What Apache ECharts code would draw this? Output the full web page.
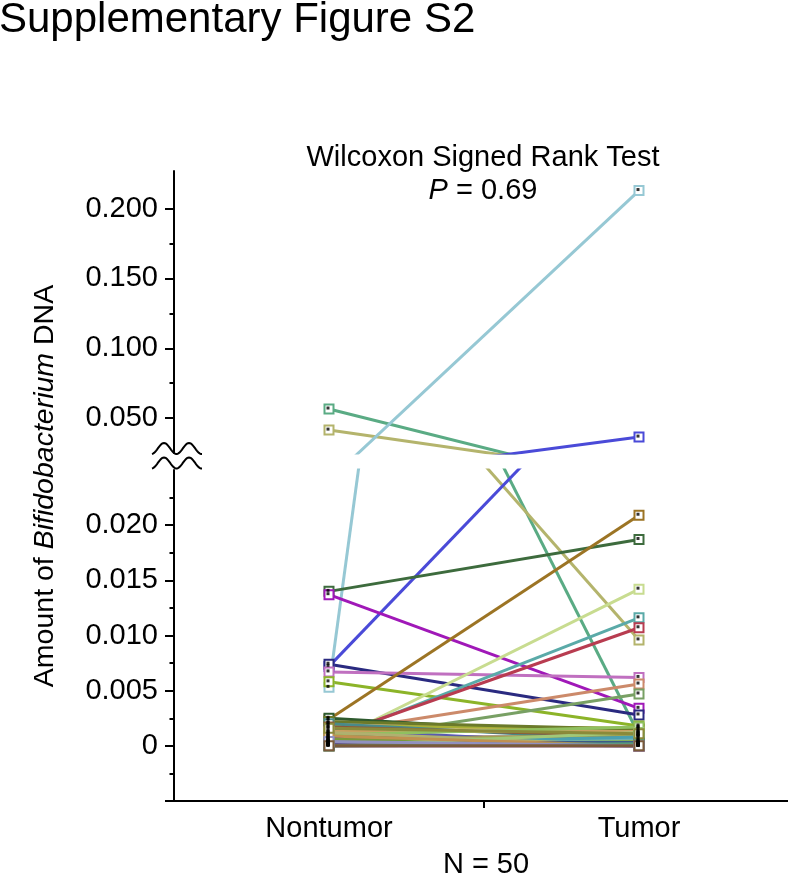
<!DOCTYPE html>
<html><head><meta charset="utf-8">
<script src="https://cdn.jsdelivr.net/npm/echarts@6/dist/echarts.min.js"></script>
<style>html,body{margin:0;padding:0;background:#fff}#c{width:788px;height:878px}</style>
</head><body><div id="c"></div>
<script>
// ---- data ----
const categories = ['Nontumor', 'Tumor'];
const nontumor = [
  0.0565, 0.0414, 0.0053, 0.0072, 0.0140, 0.0137, 0.0074, 0.0067, 0.0058, 0.0024,
  0.0003, 0.0006, 0.0008, 0.0012, 0.0004, 0.0025, 0.0020, 0.0008, 0.0000, 0.0005,
  0.0018, 0.0022, 0.0020, 0.0017, 0.0015, 0.0013, 0.0010, 0.0010, 0.0007, 0.0005,
  0.0003, 0.0002, 0.0001, 0.0000, 0.0000, 0.0000, 0.0002, 0.0004, 0.0001, 0.0000,
  0.0006, 0.0012, 0.0003, 0.0000, 0.0009, 0.0001, 0.0000, 0.0016, 0.0004, 0.0000
];
const tumor = [
  0.0010, 0.0096, 0.2130, 0.0364, 0.0187, 0.0034, 0.0028, 0.0062, 0.0018, 0.0209,
  0.0142, 0.0116, 0.0107, 0.0056, 0.0047, 0.0009, 0.0012, 0.0008, 0.0000, 0.0002,
  0.0016, 0.0015, 0.0005, 0.0009, 0.0000, 0.0013, 0.0003, 0.0017, 0.0000, 0.0010,
  0.0006, 0.0000, 0.0002, 0.0004, 0.0000, 0.0001, 0.0000, 0.0000, 0.0008, 0.0000,
  0.0001, 0.0000, 0.0003, 0.0012, 0.0000, 0.0000, 0.0002, 0.0011, 0.0000, 0.0000
];
const palette = [
  '#5aab84', '#b4b46c', '#96c8d4', '#4a4ad8', '#3d6b3d', '#a018b8', '#2a2a80', '#c070c0', '#8cb428', '#9c7424',
  '#c8dc90', '#5aaaa8', '#b83c50', '#cc8a6a', '#78a064', '#2e5a2e', '#d2b478', '#6e3a24', '#7060c8', '#3030c0',
  '#a8b038', '#6b7a2a', '#4a8a8a', '#8a5a3a', '#5a5ab0', '#c8a060', '#5a7a5a', '#90c060', '#2424b0', '#a0a050',
  '#70b0b0', '#b060a0', '#6060a0', '#8ab04a', '#d0b080', '#507850', '#8080d0', '#aa7050', '#4aa0b0', '#905090',
  '#7a9a3a', '#b0b070', '#3a5a8a', '#a0c878', '#c09050', '#6a4a8a', '#5a9a7a', '#8a8a3a', '#9090c0', '#7a5a3a'
];
const upperTicks = [0.05, 0.1, 0.15, 0.2];
const upperMinor = [0.075, 0.125, 0.175];
const lowerTicks = [-0.005, 0, 0.005, 0.01, 0.015, 0.02];
const lowerLabels = [0, 0.005, 0.01, 0.015, 0.02];
const lowerMinor = [-0.0025, 0.0025, 0.0075, 0.0125, 0.0175, 0.0225];

// ---- chart ----
const FONT = 'Arial, "Liberation Sans", Helvetica, sans-serif';
const chart = echarts.init(document.getElementById('c'));
const AX = 174, GW = 620;
const UP_TOP = 171, UP_BOT = 453, LO_TOP = 470, LO_BOT = 801;

function yAxisPair(grid, min, max, majors, labels, minors) {
  return [
    { type: 'value', gridIndex: grid, position: 'left', min: min, max: max,
      axisLine: { show: true, onZero: false, lineStyle: { color: '#000', width: 2 } },
      axisTick: { show: true, customValues: majors, length: 9, lineStyle: { color: '#000', width: 2 } },
      axisLabel: { show: true, customValues: labels, margin: 16, fontSize: 29, color: '#000', fontFamily: FONT,
        formatter: v => (Math.abs(v) < 1e-12 ? '0' : v.toFixed(3)) },
      splitLine: { show: false } },
    { type: 'value', gridIndex: grid, position: 'left', min: min, max: max,
      axisLine: { show: false, onZero: false },
      axisTick: { show: true, customValues: minors, length: 4.5, lineStyle: { color: '#000', width: 2 } },
      axisLabel: { show: false }, splitLine: { show: false } }
  ];
}

const series = [];
[[0, 0], [1, 2]].forEach(([xi, yi]) => {
  for (let i = 0; i < nontumor.length; i++) {
    const c = palette[i % palette.length];
    series.push({
      type: 'line', xAxisIndex: xi, yAxisIndex: yi, clip: true, silent: true, animation: false,
      data: [[0, nontumor[i]], [1, tumor[i]]],
      symbol: 'rect', symbolSize: 9, showSymbol: true,
      lineStyle: { color: c, width: 3 },
      itemStyle: { color: '#fff', borderColor: c, borderWidth: 2 },
      z: 2
    });
  }
  const dots = [];
  for (let i = 0; i < nontumor.length; i++) { dots.push([0, nontumor[i]]); dots.push([1, tumor[i]]); }
  series.push({
    type: 'scatter', xAxisIndex: xi, yAxisIndex: yi, clip: true, silent: true, animation: false,
    data: dots, symbol: 'rect', symbolSize: 3, symbolOffset: [-1, -1],
    itemStyle: { color: '#000' }, z: 5
  });
});

function wave(cy) {
  const pts = [];
  for (let x = 152; x <= 202; x += 1) pts.push([x, cy - 5.5 * Math.cos(2 * Math.PI * (x - 164) / 25)]);
  return { type: 'polyline', shape: { points: pts }, style: { stroke: '#000', lineWidth: 2, fill: null }, z: 10 };
}

const xBase = { type: 'value', min: -0.5, max: 1.5, splitLine: { show: false } };

chart.setOption({
  animation: false,
  backgroundColor: '#fff',
  grid: [
    { left: AX, top: UP_TOP, width: GW, height: UP_BOT - UP_TOP, outerBoundsMode: 'none', containLabel: false },
    { left: AX, top: LO_TOP, width: GW, height: LO_BOT - LO_TOP, outerBoundsMode: 'none', containLabel: false }
  ],
  xAxis: [
    Object.assign({}, xBase, { gridIndex: 0, show: false }),
    Object.assign({}, xBase, { gridIndex: 1,
      axisLine: { show: true, onZero: false, lineStyle: { color: '#000', width: 2 } },
      axisTick: { show: true, customValues: [0.5], length: 7, lineStyle: { color: '#000', width: 2 } },
      axisLabel: { show: true, customValues: [0, 1], fontSize: 29, color: '#000', fontFamily: FONT, margin: 13,
        formatter: v => categories[Math.round(v)] } })
  ],
  yAxis: [
    ...yAxisPair(0, 0.025, 0.227, upperTicks, upperTicks, upperMinor),
    ...yAxisPair(1, -0.005, 0.025, lowerTicks, lowerLabels, lowerMinor)
  ],
  series: series,
  graphic: [
    { type: 'text', x: -1, y: 20, style: { text: 'Supplementary Figure S2', font: '42px ' + FONT, fill: '#000', verticalAlign: 'middle', align: 'left' } },
    { type: 'text', x: 483, y: 158, style: { text: 'Wilcoxon Signed Rank Test', font: '29px ' + FONT, fill: '#000', align: 'center', verticalAlign: 'middle' } },
    { type: 'text', x: 483, y: 191, style: { text: '{i|P}{n| = 0.69}', align: 'center', verticalAlign: 'middle',
        rich: { i: { fontSize: 29, fontStyle: 'italic', fontFamily: FONT, fill: '#000' }, n: { fontSize: 29, fontFamily: FONT, fill: '#000' } } } },
    { type: 'text', x: 45, y: 486, rotation: Math.PI / 2,
      style: { text: '{n|Amount of }{i|Bifidobacterium}{n| DNA}', align: 'center', verticalAlign: 'middle',
        rich: { i: { fontSize: 28.5, fontStyle: 'italic', fontFamily: FONT, fill: '#000' }, n: { fontSize: 28.5, fontFamily: FONT, fill: '#000' } } } },
    { type: 'text', x: 486, y: 865, style: { text: 'N = 50', font: '29px ' + FONT, fill: '#000', align: 'center', verticalAlign: 'middle' } },
    { type: 'rect', shape: { x: 150, y: 454, width: 60, height: 15 }, style: { fill: '#fff' }, z: 9 },
    wave(448.5),
    wave(463)
  ]
});
</script></body></html>
